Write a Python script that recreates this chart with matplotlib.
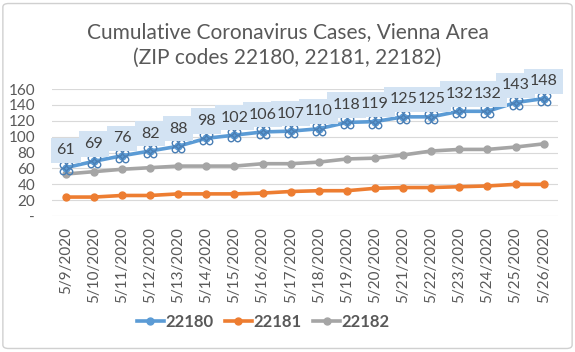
import numpy as np
import matplotlib.pyplot as plt
import matplotlib.transforms as mtransforms
from matplotlib.path import Path
from matplotlib.patches import FancyBboxPatch

dates = ['5/9/2020', '5/10/2020', '5/11/2020', '5/12/2020', '5/13/2020', '5/14/2020',
         '5/15/2020', '5/16/2020', '5/17/2020', '5/18/2020', '5/19/2020', '5/20/2020',
         '5/21/2020', '5/22/2020', '5/23/2020', '5/24/2020', '5/25/2020', '5/26/2020']
zip_22180 = [61, 69, 76, 82, 88, 98, 102, 106, 107, 110, 118, 119, 125, 125, 132, 132, 143, 148]
zip_22181 = [24, 24, 26, 26, 28, 28, 28, 29, 31, 32, 32, 35, 36, 36, 37, 38, 40, 40]
zip_22182 = [53, 56, 59, 61, 63, 63, 63, 66, 66, 68, 72, 73, 77, 82, 84, 84, 87, 91]
y_ticks = [0, 20, 40, 60, 80, 100, 120, 140, 160]
y_tick_labels = ['-', '20', '40', '60', '80', '100', '120', '140', '160']

blue = '#5B9BD5'
orange = '#ED7D31'
gray = '#A5A5A5'
txt = '#595959'

plt.rcParams['font.family'] = ['Lato', 'DejaVu Sans']

fig = plt.figure(figsize=(5.75, 3.52), dpi=100)
ax = fig.add_axes([0.09, 0.386, 0.88, 0.361])

x = np.arange(len(dates))

# selection-handle style marker: four small circles around the point
circ = Path.circle((0, 0), 0.45)
parts = [circ.transformed(mtransforms.Affine2D().translate(dx, dy))
         for dx, dy in [(-0.5, -0.5), (0.5, -0.5), (-0.5, 0.5), (0.5, 0.5)]]
handle_marker = Path.make_compound_path(*parts)

ax.plot(x, zip_22181, color=orange, lw=2.6, marker='o', ms=5, label='22181', zorder=3)
ax.plot(x, zip_22182, color=gray, lw=2.6, marker='o', ms=5, label='22182', zorder=3)
ax.plot(x, zip_22180, color=blue, lw=2.6, marker='o', ms=5, label='22180', zorder=4)
ax.plot(x, zip_22180, ls='none', marker=handle_marker, ms=9, mfc='none', mec='#4a7fb5',
        mew=1.0, zorder=5)

# data labels: boxes first, text on top
for xi, v in zip(x, zip_22180):
    ax.annotate(str(v), (xi, v), xytext=(0, 12.5), textcoords='offset points',
                ha='center', va='center', fontsize=11.5, color='none', zorder=6,
                bbox=dict(boxstyle='square,pad=0.35', fc='#d3e3f3', ec='none'))
for xi, v in zip(x, zip_22180):
    ax.annotate(str(v), (xi, v), xytext=(0, 12.5), textcoords='offset points',
                ha='center', va='center', fontsize=11.5, color='#404040', zorder=7)

ax.set_xlim(-0.5, len(dates) - 0.5)
ax.set_ylim(0, 160)
ax.set_yticks(y_ticks)
ax.set_yticklabels(y_tick_labels)
ax.set_xticks(x)
ax.set_xticklabels(dates, rotation=90)
ax.tick_params(axis='both', length=0, colors=txt, labelsize=11)
ax.tick_params(axis='x', pad=8)
ax.tick_params(axis='y', pad=12)
ax.grid(axis='y', color='#d9d9d9', lw=0.8)
ax.set_axisbelow(True)
for s in ax.spines.values():
    s.set_visible(False)

fig.text(0.5, 0.91, 'Cumulative Coronavirus Cases, Vienna Area', ha='center', va='center',
         fontsize=15, color=txt)
fig.text(0.5, 0.835, '(ZIP codes 22180, 22181, 22182)', ha='center', va='center',
         fontsize=15, color=txt)

handles, labels = ax.get_legend_handles_labels()
order = [2, 0, 1]
leg = fig.legend([handles[i] for i in order], [labels[i] for i in order], loc='center',
                 bbox_to_anchor=(0.458, 0.085), ncol=3, frameon=False, fontsize=12,
                 handlelength=1.6, columnspacing=0.7, handletextpad=0.1)
for t in leg.get_texts():
    t.set_color(txt)
    t.set_fontweight('bold')

fig.patches.append(FancyBboxPatch((0.005, 0.01), 0.99, 0.98, boxstyle='round,pad=0,rounding_size=0.01',
                                  transform=fig.transFigure, fc='none', ec='#d0d0d0', lw=1))

fig.savefig('out.png', dpi=100)
